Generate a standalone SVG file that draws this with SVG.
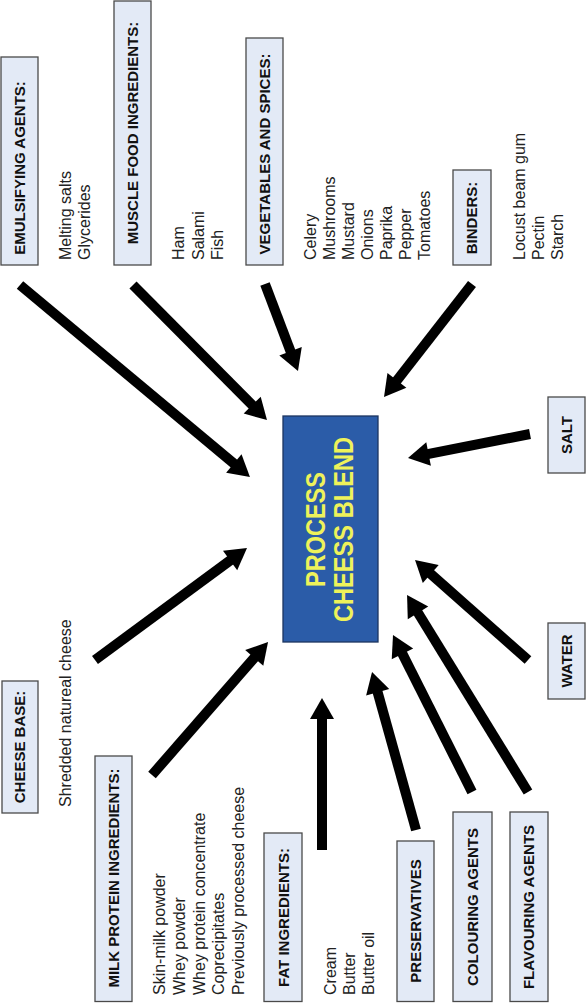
<svg xmlns="http://www.w3.org/2000/svg" width="586" height="1003" viewBox="0 0 586 1003">
<style>
.box{fill:#e3eaf6;stroke:#4a4a4a;stroke-width:1.3}
.hd{font-family:"Liberation Sans",Arial,sans-serif;font-weight:bold;font-size:15px;fill:#111;text-anchor:middle}
.tx{font-family:"Liberation Sans",Arial,sans-serif;font-size:16px;fill:#222}
.ctr{fill:#2b5ca8;stroke:#1c3560;stroke-width:1.3}
.ct{font-family:"Liberation Sans",Arial,sans-serif;font-weight:bold;font-size:28px;fill:#eef25a;text-anchor:middle}
.ar{stroke:#000;stroke-width:10;fill:none;marker-end:url(#ah)}
</style>
<defs>
<marker id="ah" markerUnits="userSpaceOnUse" markerWidth="24" markerHeight="28" viewBox="0 -14 24 28" refX="1" refY="0" orient="auto" overflow="visible">
<path d="M0,-12 L21,0 L0,12 Z" fill="#000"/>
</marker>
</defs>
<rect width="586" height="1003" fill="#fff"/>

<g id="center">
<rect class="ctr" x="283" y="416" width="95" height="226"/>
<text class="ct" transform="translate(325,529.5) rotate(-90)" textLength="115" lengthAdjust="spacingAndGlyphs">PROCESS</text>
<text class="ct" transform="translate(353,529.5) rotate(-90)" textLength="185" lengthAdjust="spacingAndGlyphs">CHEESS BLEND</text>
</g>

<g id="emulsifying">
<rect class="box" x="1" y="57" width="37" height="208"/>
<text class="hd" transform="translate(25,168) rotate(-90)">EMULSIFYING AGENTS:</text>
<text class="tx" transform="translate(71,260) rotate(-90)">Melting salts</text>
<text class="tx" transform="translate(90,260) rotate(-90)">Glycerides</text>
</g>

<g id="muscle">
<rect class="box" x="114" y="1" width="37" height="264"/>
<text class="hd" transform="translate(138,133) rotate(-90)">MUSCLE FOOD INGREDIENTS:</text>
<text class="tx" transform="translate(184,260) rotate(-90)">Ham</text>
<text class="tx" transform="translate(203.5,260) rotate(-90)">Salami</text>
<text class="tx" transform="translate(223,260) rotate(-90)">Fish</text>
</g>

<g id="vegetables">
<rect class="box" x="246" y="38" width="37" height="227"/>
<text class="hd" transform="translate(270,154) rotate(-90)">VEGETABLES AND SPICES:</text>
<text class="tx" transform="translate(316,260) rotate(-90)">Celery</text>
<text class="tx" transform="translate(335,260) rotate(-90)">Mushrooms</text>
<text class="tx" transform="translate(354,260) rotate(-90)">Mustard</text>
<text class="tx" transform="translate(373,260) rotate(-90)">Onions</text>
<text class="tx" transform="translate(392,260) rotate(-90)">Paprika</text>
<text class="tx" transform="translate(411,260) rotate(-90)">Pepper</text>
<text class="tx" transform="translate(430,260) rotate(-90)">Tomatoes</text>
</g>

<g id="binders">
<rect class="box" x="453" y="170" width="38" height="95"/>
<text class="hd" transform="translate(477,218) rotate(-90)">BINDERS:</text>
<text class="tx" transform="translate(525,260) rotate(-90)">Locust beam gum</text>
<text class="tx" transform="translate(544,260) rotate(-90)">Pectin</text>
<text class="tx" transform="translate(563,260) rotate(-90)">Starch</text>
</g>

<g id="salt">
<rect class="box" x="548" y="397" width="37" height="76"/>
<text class="hd" transform="translate(572,435) rotate(-90)">SALT</text>
</g>

<g id="water">
<rect class="box" x="548" y="623" width="37" height="76"/>
<text class="hd" transform="translate(572,661) rotate(-90)">WATER</text>
</g>

<g id="cheese-base">
<rect class="box" x="2" y="681" width="36" height="132"/>
<text class="hd" transform="translate(25,747) rotate(-90)">CHEESE BASE:</text>
<text class="tx" transform="translate(71,807) rotate(-90)">Shredded natureal cheese</text>
</g>

<g id="milk-protein">
<rect class="box" x="95" y="756" width="37" height="245.5"/>
<text class="hd" transform="translate(119,878) rotate(-90)">MILK PROTEIN INGREDIENTS:</text>
<text class="tx" transform="translate(165,995) rotate(-90)">Skin-milk powder</text>
<text class="tx" transform="translate(184.75,995) rotate(-90)">Whey powder</text>
<text class="tx" transform="translate(204.5,995) rotate(-90)">Whey protein concentrate</text>
<text class="tx" transform="translate(224.25,995) rotate(-90)">Coprecipitates</text>
<text class="tx" transform="translate(244,995) rotate(-90)">Previously processed cheese</text>
</g>

<g id="fat">
<rect class="box" x="264" y="833" width="38" height="168.5"/>
<text class="hd" transform="translate(289,917.5) rotate(-90)">FAT INGREDIENTS:</text>
<text class="tx" transform="translate(336,995) rotate(-90)">Cream</text>
<text class="tx" transform="translate(355,995) rotate(-90)">Butter</text>
<text class="tx" transform="translate(374,995) rotate(-90)">Butter oil</text>
</g>

<g id="preservatives">
<rect class="box" x="397" y="841" width="37" height="160.5"/>
<text class="hd" transform="translate(421,921) rotate(-90)">PRESERVATIVES</text>
</g>

<g id="colouring">
<rect class="box" x="453" y="812" width="39" height="189.5"/>
<text class="hd" transform="translate(478,907) rotate(-90)">COLOURING AGENTS</text>
</g>

<g id="flavouring">
<rect class="box" x="510" y="812" width="38" height="189.5"/>
<text class="hd" transform="translate(534,907) rotate(-90)">FLAVOURING AGENTS</text>
</g>

<g id="connectors">
<line class="ar" x1="20" y1="285" x2="234.6" y2="464.2"/>
<line class="ar" x1="133" y1="285" x2="252.9" y2="405.8"/>
<line class="ar" x1="265" y1="284" x2="290.9" y2="352.3"/>
<line class="ar" x1="472" y1="284" x2="396.3" y2="381.2"/>
<line class="ar" x1="530" y1="434" x2="427.6" y2="454.1"/>
<line class="ar" x1="528" y1="660" x2="430" y2="573.3"/>
<line class="ar" x1="528" y1="792" x2="417.5" y2="612"/>
<line class="ar" x1="472" y1="792" x2="402" y2="652.9"/>
<line class="ar" x1="416" y1="830" x2="377.4" y2="691.3"/>
<line class="ar" x1="322" y1="850" x2="322" y2="718"/>
<line class="ar" x1="152" y1="775" x2="254.9" y2="657.1"/>
<line class="ar" x1="95" y1="660" x2="230.9" y2="559.9"/>
</g>
</svg>
